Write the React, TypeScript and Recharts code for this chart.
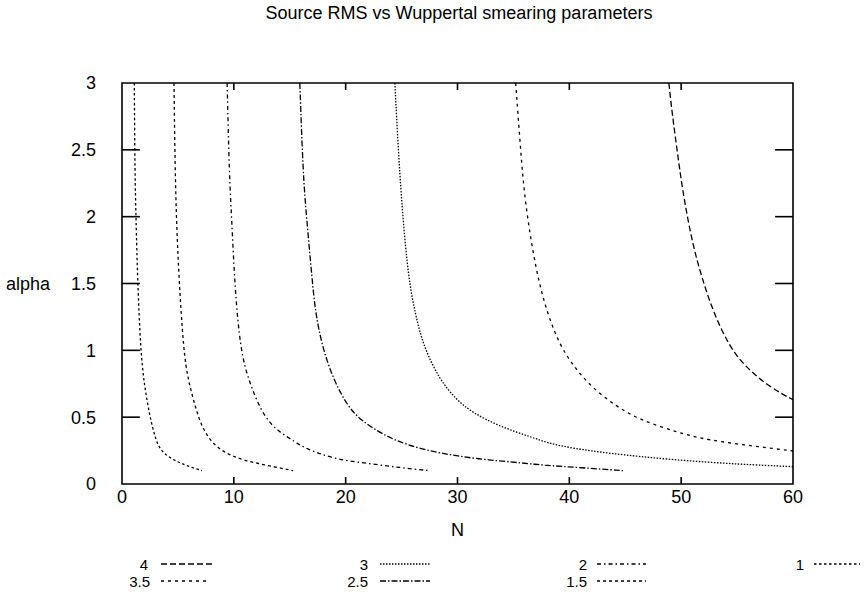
import React from "react"
import { LineChart, Line, XAxis, YAxis, ReferenceArea, ReferenceLine } from "recharts"

// [N, alpha] points
const rms4 = [[48.9, 3], [49.2, 2.77], [49.6, 2.52], [50.0, 2.27], [50.5, 2.02], [51.1, 1.77], [51.9, 1.53], [52.9, 1.28], [54.3, 1.03], [55.7, 0.88], [57.8, 0.73], [60, 0.63]]
const rms35 = [[35.2, 3], [35.6, 2.55], [36.0, 2.12], [37.0, 1.6], [38.0, 1.28], [39.2, 1.03], [40.4, 0.88], [41.9, 0.73], [44.2, 0.58], [46.3, 0.48], [49.9, 0.38], [52.3, 0.33], [56.8, 0.28], [60, 0.247]]
const rms3 = [[24.4, 3], [24.7, 2.5], [25.1, 2.0], [25.6, 1.55], [26.2, 1.28], [26.95, 1.03], [28.4, 0.78], [29.9, 0.63], [31.4, 0.53], [33.8, 0.43], [36.5, 0.354], [38.3, 0.3], [40.4, 0.267], [43.4, 0.23], [49.3, 0.18], [55.3, 0.147], [60, 0.13]]
const rms25 = [[15.9, 3], [16.2, 2.3], [16.5, 2.0], [17.0, 1.53], [17.3, 1.28], [17.9, 1.03], [18.9, 0.78], [20.2, 0.58], [21.3, 0.48], [23.3, 0.37], [25.5, 0.29], [28.4, 0.23], [31.7, 0.187], [36.2, 0.155], [37.4, 0.142], [41.1, 0.122], [44.8, 0.1]]
const rms2 = [[9.4, 3], [9.6, 2.3], [9.8, 2.0], [10.1, 1.45], [10.6, 1.0], [11.3, 0.78], [12.5, 0.53], [13.8, 0.4], [15.6, 0.31], [16.3, 0.27], [18.9, 0.187], [21.9, 0.155], [24.9, 0.122], [27.5, 0.1]]
const rms15 = [[4.65, 3], [4.72, 2.5], [4.85, 2.0], [5.1, 1.53], [5.5, 1.0], [5.9, 0.78], [6.7, 0.53], [7.3, 0.4], [8.3, 0.28], [9.95, 0.2], [12, 0.155], [15.3, 0.1]]
const rms1 = [[1.1, 3], [1.16, 2.3], [1.25, 2.0], [1.4, 1.5], [1.67, 1.0], [1.97, 0.75], [2.5, 0.5], [2.95, 0.35], [3.4, 0.254], [4.3, 0.194], [5.19, 0.157], [6.08, 0.129], [7.13, 0.1]]

const seriesNames = ["4", "3.5", "3", "2.5", "2", "1.5", "1"]
const seriesPoints = [rms4, rms35, rms3, rms25, rms2, rms15, rms1]
const xTicks = [0, 10, 20, 30, 40, 50, 60]
const yTicks = [0, 0.5, 1, 1.5, 2, 2.5, 3]

const dashes = ["6 3", "3 4", "1.5 1.5", "6 2 1.5 2", "4 3 1.5 3", "3 3", "2.5 2.5"]
// legend slots: [label right edge, sample start, sample end, row centre]
const legendSlots = [
  [148, 161, 213, 564],
  [150, 161, 210, 581],
  [368, 380, 430, 564],
  [368, 380, 430, 581],
  [587, 597, 646, 564],
  [587, 597, 646, 581],
  [804, 814, 860, 564],
]

const font = '"Liberation Sans", Arial, Helvetica, sans-serif'
const xTickLen = 0.052
const yTickLen = 1.6

export default function App() {
  const series = seriesNames.map((name, i) => ({
    name,
    dash: dashes[i],
    data: seriesPoints[i].map(([n, alpha]) => ({ n, alpha })),
  }))

  return (
    <div style={{ position: "absolute", left: 0, top: 0, width: 864, height: 592, background: "#fff", fontFamily: font }}>
      <LineChart width={864} height={592} margin={{ top: 83, right: 71, bottom: 78, left: 82 }}>
        <XAxis
          dataKey="n"
          type="number"
          domain={[0, 60]}
          ticks={xTicks}
          allowDataOverflow
          axisLine={false}
          tickLine={false}
          tickSize={6}
          tickMargin={0}
          height={30}
          tick={{ fontSize: 18, fill: "#000", fontFamily: font }}
          label={{ value: "N", position: "bottom", offset: 9, fontSize: 18, fill: "#000", fontFamily: font }}
        />
        <YAxis
          type="number"
          domain={[0, 3]}
          ticks={yTicks}
          allowDataOverflow
          axisLine={false}
          tickLine={false}
          tickSize={26}
          tickMargin={0}
          width={40}
          tick={{ fontSize: 18, fill: "#000", fontFamily: font }}
          label={{ value: "alpha", position: "left", offset: 32, fontSize: 18, fill: "#000", fontFamily: font }}
        />
        <ReferenceArea x1={0} x2={60} y1={0} y2={3} fill="none" stroke="#000" strokeWidth={1.6} />
        {xTicks.slice(1, -1).map((t) => (
          <ReferenceLine key={"xb" + t} segment={[{ x: t, y: 0 }, { x: t, y: xTickLen }]} stroke="#000" strokeWidth={1.6} />
        ))}
        {xTicks.slice(1, -1).map((t) => (
          <ReferenceLine key={"xt" + t} segment={[{ x: t, y: 3 }, { x: t, y: 3 - xTickLen }]} stroke="#000" strokeWidth={1.6} />
        ))}
        {yTicks.slice(1, -1).map((t) => (
          <ReferenceLine key={"yl" + t} segment={[{ x: 0, y: t }, { x: yTickLen, y: t }]} stroke="#000" strokeWidth={1.6} />
        ))}
        {yTicks.slice(1, -1).map((t) => (
          <ReferenceLine key={"yr" + t} segment={[{ x: 60, y: t }, { x: 60 - yTickLen, y: t }]} stroke="#000" strokeWidth={1.6} />
        ))}
        {series.map((s) => (
          <Line
            key={s.name}
            data={s.data}
            dataKey="alpha"
            name={s.name}
            type="basis"
            stroke="#000"
            strokeWidth={1.3}
            strokeDasharray={s.dash}
            dot={false}
            activeDot={false}
            isAnimationActive={false}
          />
        ))}
      </LineChart>
      <svg width={864} height={592} style={{ position: "absolute", left: 0, top: 0, pointerEvents: "none" }}>
        <text x={459} y={19} textAnchor="middle" fontSize={18} fontFamily={font} fill="#000">
          Source RMS vs Wuppertal smearing parameters
        </text>
        {series.map((s, i) => {
          const [lx, x1, x2, cy] = legendSlots[i]
          return (
            <g key={s.name}>
              <text x={lx} y={cy + 5.5} textAnchor="end" fontSize={15} fontFamily={font} fill="#000">
                {s.name}
              </text>
              <line x1={x1} x2={x2} y1={cy} y2={cy} stroke="#000" strokeWidth={1.3} strokeDasharray={s.dash} />
            </g>
          )
        })}
      </svg>
    </div>
  )
}
